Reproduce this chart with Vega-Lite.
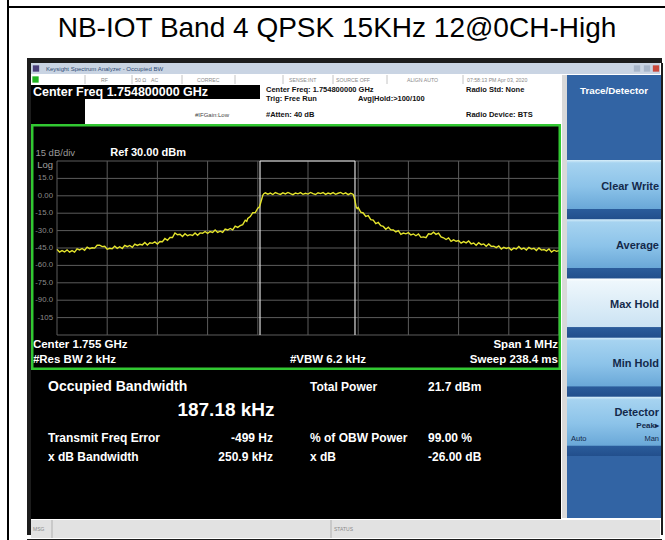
{
  "$schema": "https://vega.github.io/schema/vega-lite/v6.json",
  "background": "#ffffff",
  "padding": {"left": 7, "top": 0, "right": 0, "bottom": 0},
  "config": {"view": {"stroke": null}, "concat": {"spacing": 0}, "font": "Liberation Sans"},
  "datasets": {
    "trace": [
      {"f": -500, "p": -46.2}, {"f": -495, "p": -48.5}, {"f": -490, "p": -47.2}, {"f": -485, "p": -48.4}, {"f": -480, "p": -46.6},
      {"f": -475, "p": -48.6}, {"f": -470, "p": -47.2}, {"f": -465, "p": -48.5}, {"f": -460, "p": -45.7}, {"f": -455, "p": -46.6},
      {"f": -450, "p": -45.4}, {"f": -445, "p": -46.9}, {"f": -440, "p": -44.2}, {"f": -435, "p": -45.6}, {"f": -430, "p": -44.8},
      {"f": -425, "p": -45.1}, {"f": -420, "p": -42.6}, {"f": -415, "p": -42.5}, {"f": -410, "p": -43.8}, {"f": -405, "p": -43.5},
      {"f": -400, "p": -46.1}, {"f": -395, "p": -45.2}, {"f": -390, "p": -45.7}, {"f": -385, "p": -43.4}, {"f": -380, "p": -45.3},
      {"f": -375, "p": -43.9}, {"f": -370, "p": -45.4}, {"f": -365, "p": -42.7}, {"f": -360, "p": -43.9}, {"f": -355, "p": -42.8},
      {"f": -350, "p": -44.4}, {"f": -345, "p": -41.6}, {"f": -340, "p": -42.8}, {"f": -335, "p": -41.8}, {"f": -330, "p": -42.3},
      {"f": -325, "p": -40.2}, {"f": -320, "p": -42.4}, {"f": -315, "p": -40.5}, {"f": -310, "p": -41.0}, {"f": -305, "p": -39.8},
      {"f": -300, "p": -41.6}, {"f": -295, "p": -39.4}, {"f": -290, "p": -39.6}, {"f": -285, "p": -36.8}, {"f": -280, "p": -38.4},
      {"f": -275, "p": -35.9}, {"f": -270, "p": -36.0}, {"f": -265, "p": -32.0}, {"f": -260, "p": -33.6}, {"f": -255, "p": -33.1},
      {"f": -250, "p": -35.1}, {"f": -245, "p": -32.7}, {"f": -240, "p": -34.4}, {"f": -235, "p": -33.5}, {"f": -230, "p": -34.2},
      {"f": -225, "p": -32.0}, {"f": -220, "p": -34.1}, {"f": -215, "p": -32.0}, {"f": -210, "p": -32.3}, {"f": -205, "p": -30.8},
      {"f": -200, "p": -32.4}, {"f": -195, "p": -30.8}, {"f": -190, "p": -31.6}, {"f": -185, "p": -29.4}, {"f": -180, "p": -31.6},
      {"f": -175, "p": -30.5}, {"f": -170, "p": -31.6}, {"f": -165, "p": -28.7}, {"f": -160, "p": -29.5}, {"f": -155, "p": -28.2},
      {"f": -150, "p": -29.4}, {"f": -145, "p": -26.2}, {"f": -140, "p": -27.2}, {"f": -135, "p": -25.8}, {"f": -130, "p": -24.9},
      {"f": -125, "p": -21.1}, {"f": -122, "p": -22.0}, {"f": -120, "p": -19.6}, {"f": -115, "p": -17.9}, {"f": -110, "p": -14.6},
      {"f": -105, "p": -14.4}, {"f": -100, "p": -10.7}, {"f": -97, "p": -9.8}, {"f": -95, "p": -7.1}, {"f": -92, "p": -2.5},
      {"f": -90, "p": 0.5}, {"f": -88, "p": 1.8}, {"f": -85, "p": 2.6}, {"f": -80, "p": 1.4}, {"f": -75, "p": 2.3},
      {"f": -70, "p": 1.1}, {"f": -65, "p": 2.8}, {"f": -60, "p": 1.9}, {"f": -55, "p": 1.2}, {"f": -50, "p": 2.5},
      {"f": -45, "p": 1.6}, {"f": -40, "p": 2.9}, {"f": -35, "p": 1.8}, {"f": -30, "p": 1.0}, {"f": -25, "p": 2.4},
      {"f": -20, "p": 1.7}, {"f": -15, "p": 2.7}, {"f": -10, "p": 1.3}, {"f": -5, "p": 2.2}, {"f": 0, "p": 1.5},
      {"f": 5, "p": 2.9}, {"f": 10, "p": 1.8}, {"f": 15, "p": 1.1}, {"f": 20, "p": 2.6}, {"f": 25, "p": 1.9},
      {"f": 30, "p": 2.8}, {"f": 35, "p": 1.2}, {"f": 40, "p": 2.4}, {"f": 45, "p": 1.6}, {"f": 50, "p": 2.7},
      {"f": 55, "p": 1.3}, {"f": 60, "p": 2.2}, {"f": 65, "p": 2.9}, {"f": 70, "p": 1.5}, {"f": 75, "p": 2.5},
      {"f": 80, "p": 1.0}, {"f": 85, "p": 2.1}, {"f": 88, "p": 1.6}, {"f": 90, "p": 1.2}, {"f": 92, "p": -1.5},
      {"f": 94, "p": -5.0}, {"f": 96, "p": -9.7}, {"f": 98, "p": -11.0}, {"f": 100, "p": -10.1}, {"f": 105, "p": -14.1},
      {"f": 110, "p": -14.8}, {"f": 115, "p": -17.7}, {"f": 120, "p": -17.0}, {"f": 125, "p": -20.6}, {"f": 130, "p": -20.9},
      {"f": 135, "p": -24.0}, {"f": 140, "p": -23.0}, {"f": 145, "p": -25.8}, {"f": 150, "p": -26.4}, {"f": 155, "p": -28.8},
      {"f": 160, "p": -27.1}, {"f": 165, "p": -29.4}, {"f": 170, "p": -29.5}, {"f": 175, "p": -31.2}, {"f": 180, "p": -30.1},
      {"f": 185, "p": -33.2}, {"f": 190, "p": -32.1}, {"f": 195, "p": -32.8}, {"f": 200, "p": -31.8}, {"f": 205, "p": -33.8},
      {"f": 210, "p": -32.9}, {"f": 215, "p": -34.4}, {"f": 220, "p": -32.9}, {"f": 225, "p": -35.8}, {"f": 230, "p": -35.4},
      {"f": 235, "p": -36.1}, {"f": 240, "p": -32.8}, {"f": 245, "p": -33.2}, {"f": 250, "p": -31.4}, {"f": 255, "p": -33.2},
      {"f": 260, "p": -32.2}, {"f": 265, "p": -35.4}, {"f": 270, "p": -36.2}, {"f": 275, "p": -37.7}, {"f": 280, "p": -36.3},
      {"f": 285, "p": -39.3}, {"f": 290, "p": -38.0}, {"f": 295, "p": -39.2}, {"f": 300, "p": -38.5}, {"f": 305, "p": -40.8},
      {"f": 310, "p": -39.5}, {"f": 315, "p": -40.6}, {"f": 320, "p": -38.9}, {"f": 325, "p": -41.4}, {"f": 330, "p": -40.7},
      {"f": 335, "p": -42.6}, {"f": 340, "p": -40.5}, {"f": 345, "p": -42.1}, {"f": 350, "p": -41.5}, {"f": 355, "p": -43.5},
      {"f": 360, "p": -41.5}, {"f": 365, "p": -43.6}, {"f": 370, "p": -43.4}, {"f": 375, "p": -44.7}, {"f": 380, "p": -43.2},
      {"f": 385, "p": -45.9}, {"f": 390, "p": -44.4}, {"f": 395, "p": -45.4}, {"f": 400, "p": -44.7}, {"f": 405, "p": -46.7},
      {"f": 410, "p": -45.1}, {"f": 415, "p": -45.9}, {"f": 420, "p": -43.8}, {"f": 425, "p": -46.0}, {"f": 430, "p": -45.0},
      {"f": 435, "p": -46.8}, {"f": 440, "p": -44.4}, {"f": 445, "p": -45.9}, {"f": 450, "p": -45.2}, {"f": 455, "p": -47.1},
      {"f": 460, "p": -44.9}, {"f": 465, "p": -46.8}, {"f": 470, "p": -46.3}, {"f": 475, "p": -47.5}, {"f": 480, "p": -45.8},
      {"f": 485, "p": -48.5}, {"f": 490, "p": -46.9}, {"f": 495, "p": -47.9}, {"f": 500, "p": -47.2}
    ],
    "hgrid": [{"db": 30}, {"db": 15}, {"db": 0}, {"db": -15}, {"db": -30}, {"db": -45}, {"db": -60}, {"db": -75}, {"db": -90}, {"db": -105}, {"db": -120}],
    "vgrid": [{"f": -500}, {"f": -400}, {"f": -300}, {"f": -200}, {"f": -100}, {"f": 0}, {"f": 100}, {"f": 200}, {"f": 300}, {"f": 400}, {"f": 500}],
    "obw": [{"f": -95.6}, {"f": 93.6}],
    "obwTop": [{"lo": -95.6, "hi": 93.6}],
    "ylab": [{"db": 15, "lab": "15.0"}, {"db": 0, "lab": "0.00"}, {"db": -15, "lab": "-15.0"}, {"db": -30, "lab": "-30.0"}, {"db": -45, "lab": "-45.0"}, {"db": -60, "lab": "-60.0"}, {"db": -75, "lab": "-75.0"}, {"db": -90, "lab": "-90.0"}, {"db": -105, "lab": "-105"}],
    "buttons": [{"btn": "Clear Write", "active": false}, {"btn": "Average", "active": false}, {"btn": "Max Hold", "active": true}, {"btn": "Min Hold", "active": false}, {"btn": "Detector", "active": false}]
  },
  "spacing": 0,
  "hconcat": [
    {"width": 2, "height": 540, "data": {"values": []}, "mark": "text", "view": {"fill": "#000000"}},
    {
      "spacing": 0,
      "vconcat": [
        {"width": 656, "height": 6, "data": {"values": []}, "mark": "text"},
        {"width": 656, "height": 2, "data": {"values": []}, "mark": "text", "view": {"fill": "#000000"}},
        {"width": 656, "height": 42, "data": {"values": [{"t": "NB-IOT Band 4 QPSK 15KHz 12@0CH-High"}]}, "mark": {"type": "text", "fontSize": 28, "font": "Liberation Sans", "color": "#000000"}, "encoding": {"text": {"field": "t"}}},
        {"width": 656, "height": 8, "data": {"values": []}, "mark": "text"},
        {
          "spacing": 0,
          "hconcat": [
            {"width": 18, "height": 480, "data": {"values": []}, "mark": "text"},
            {
              "spacing": 0,
              "vconcat": [
                {"width": 635, "height": 5, "data": {"values": []}, "mark": "text", "view": {"fill": "#1c1c1c"}},
                {
                  "spacing": 0,
                  "hconcat": [
                    {"width": 4, "height": 472, "data": {"values": []}, "mark": "text", "view": {"fill": "#1c1c1c"}},
                    {
                      "spacing": 0,
                      "vconcat": [
                        {
                          "width": 629, "height": 11, "view": {"fill": "#c9d4e3"},
                          "layer": [
                            {"data": {"values": [{"t": "Keysight Spectrum Analyzer - Occupied BW", "col": 2}]},
                             "mark": {"type": "text", "align": "left", "fontSize": 6, "color": "#2f4c74"},
                             "encoding": {"x": {"field": "col", "type": "quantitative", "scale": {"domain": [1, 2, 3, 4, 5], "range": [5, 15, 606, 616, 625], "zero": false, "nice": false}, "axis": null}, "text": {"field": "t"}}},
                            {"data": {"values": [{"w": "icon", "col": 1}, {"w": "minimize", "col": 3}, {"w": "maximize", "col": 4}, {"w": "close", "col": 5}]},
                             "mark": {"type": "square", "size": 40, "opacity": 1},
                             "encoding": {"x": {"field": "col", "type": "quantitative", "scale": {"domain": [1, 2, 3, 4, 5], "range": [5, 15, 606, 616, 625], "zero": false, "nice": false}, "axis": null},
                                          "color": {"field": "w", "type": "nominal", "scale": {"domain": ["icon", "minimize", "maximize", "close"], "range": ["#4a3f7a", "#a7b5c9", "#a7b5c9", "#c9483b"]}, "legend": null}}}
                          ]
                        },
                        {
                          "spacing": 0,
                          "hconcat": [
                            {
                              "spacing": 0,
                              "vconcat": [
                                {
                                  "width": 530, "height": 9, "view": {"fill": "#ffffff"},
                                  "resolve": {"scale": {"x": "independent"}},
                                  "layer": [
                                    {"data": {"values": [{"s": 1}, {"s": 2}, {"s": 3}, {"s": 4}, {"s": 5}, {"s": 6}, {"s": 7}, {"s": 8}]},
                                     "mark": {"type": "rule", "color": "#c4c4c4", "strokeWidth": 1},
                                     "encoding": {"x": {"field": "s", "type": "quantitative", "scale": {"domain": [1, 2, 3, 4, 5, 6, 7, 8], "range": [54, 101, 151, 204, 252, 302, 356, 432], "zero": false, "nice": false}, "axis": null}}},
                                    {"data": {"values": [{"t": "RF", "col": 1}, {"t": "50 Ω", "col": 2}, {"t": "AC", "col": 3}, {"t": "CORREC", "col": 4}, {"t": "SENSE:INT", "col": 5}, {"t": "SOURCE OFF", "col": 6}, {"t": "ALIGN AUTO", "col": 7}, {"t": "07:58:13 PM Apr 03, 2020", "col": 8}]},
                                     "mark": {"type": "text", "align": "left", "fontSize": 5.2, "color": "#8a8a8a"},
                                     "encoding": {"x": {"field": "col", "type": "quantitative", "scale": {"domain": [1, 2, 3, 4, 5, 6, 7, 8], "range": [70, 104, 120, 166, 258, 305, 376, 436], "zero": false, "nice": false}, "axis": null}, "text": {"field": "t"}}},
                                    {"data": {"values": [{"t": "LXI", "col": 1}]},
                                     "mark": {"type": "square", "size": 40, "color": "#22b422", "opacity": 1},
                                     "encoding": {"x": {"field": "col", "type": "quantitative", "scale": {"domain": [0, 1], "range": [0, 4.5], "zero": false, "nice": false}, "axis": null}}}
                                  ]
                                },
                                {
                                  "spacing": 0,
                                  "hconcat": [
                                    {
                                      "spacing": 0,
                                      "vconcat": [
                                        {"width": 229, "height": 14, "view": {"fill": "#000000"},
                                         "data": {"values": [{"t": "Center Freq 1.754800000 GHz", "col": 1}]},
                                         "mark": {"type": "text", "align": "left", "fontSize": 12.5, "fontWeight": "bold", "color": "#ffffff"},
                                         "encoding": {"x": {"field": "col", "type": "quantitative", "scale": {"domain": [0, 1], "range": [0, 2], "zero": false, "nice": false}, "axis": null}, "text": {"field": "t"}}},
                                        {
                                          "spacing": 0,
                                          "hconcat": [
                                            {"width": 54, "height": 25, "data": {"values": []}, "mark": "text", "view": {"fill": "#000000"}},
                                            {"width": 175, "height": 25, "view": {"fill": "#ffffff"},
                                             "data": {"values": [{"t": "#IFGain:Low", "col": 1, "line": 1}]},
                                             "mark": {"type": "text", "align": "left", "fontSize": 6, "color": "#444444"},
                                             "encoding": {"x": {"field": "col", "type": "quantitative", "scale": {"domain": [0, 1], "range": [0, 110], "zero": false, "nice": false}, "axis": null},
                                                          "y": {"field": "line", "type": "quantitative", "scale": {"domain": [0, 1], "range": [0, 16], "zero": false, "nice": false}, "axis": null},
                                                          "text": {"field": "t"}}}
                                          ]
                                        }
                                      ]
                                    },
                                    {"width": 301, "height": 39, "view": {"fill": "#ffffff"},
                                     "data": {"values": [
                                       {"t": "Center Freq: 1.754800000 GHz", "col": 1, "line": 1},
                                       {"t": "Trig: Free Run", "col": 1, "line": 2},
                                       {"t": "#Atten: 40 dB", "col": 1, "line": 3},
                                       {"t": "Avg|Hold:>100/100", "col": 2, "line": 2},
                                       {"t": "Radio Std: None", "col": 3, "line": 1},
                                       {"t": "Radio Device: BTS", "col": 3, "line": 3}
                                     ]},
                                     "mark": {"type": "text", "align": "left", "fontSize": 7.5, "fontWeight": "bold", "color": "#111111"},
                                     "encoding": {"x": {"field": "col", "type": "quantitative", "scale": {"domain": [1, 2, 3], "range": [6, 98, 206], "zero": false, "nice": false}, "axis": null},
                                                  "y": {"field": "line", "type": "quantitative", "scale": {"domain": [1, 2, 3], "range": [5, 14, 30], "zero": false, "nice": false}, "axis": null},
                                                  "text": {"field": "t"}}}
                                  ]
                                },
                                {
                                  "width": 530, "height": 246,
                                  "view": {"fill": "#000000"},
                                  "layer": [
                                    {"data": {"name": "hgrid"}, "mark": {"type": "rule", "color": "#5c5c5c", "strokeWidth": 1},
                                     "encoding": {"y": {"field": "db", "type": "quantitative", "scale": {"domain": [-120, 30], "range": [211, 37], "nice": false, "zero": false}, "axis": null},
                                                  "x": {"datum": -500, "type": "quantitative", "scale": {"domain": [-500, 500], "range": [26, 528], "nice": false, "zero": false}, "axis": null},
                                                  "x2": {"datum": 500}}},
                                    {"data": {"name": "vgrid"}, "mark": {"type": "rule", "color": "#5c5c5c", "strokeWidth": 1},
                                     "encoding": {"x": {"field": "f", "type": "quantitative", "scale": {"domain": [-500, 500], "range": [26, 528], "nice": false, "zero": false}, "axis": null},
                                                  "y": {"datum": -120, "type": "quantitative", "scale": {"domain": [-120, 30], "range": [211, 37], "nice": false, "zero": false}, "axis": null},
                                                  "y2": {"datum": 30}}},
                                    {"data": {"name": "obw"}, "mark": {"type": "rule", "color": "#dcdcdc", "strokeWidth": 1.2},
                                     "encoding": {"x": {"field": "f", "type": "quantitative", "scale": {"domain": [-500, 500], "range": [26, 528], "nice": false, "zero": false}, "axis": null},
                                                  "y": {"datum": -120, "type": "quantitative", "scale": {"domain": [-120, 30], "range": [211, 37], "nice": false, "zero": false}, "axis": null},
                                                  "y2": {"datum": 30}}},
                                    {"data": {"name": "obwTop"}, "mark": {"type": "rule", "color": "#dcdcdc", "strokeWidth": 1.2},
                                     "encoding": {"x": {"field": "lo", "type": "quantitative", "scale": {"domain": [-500, 500], "range": [26, 528], "nice": false, "zero": false}, "axis": null},
                                                  "x2": {"field": "hi"},
                                                  "y": {"datum": 30, "type": "quantitative", "scale": {"domain": [-120, 30], "range": [211, 37], "nice": false, "zero": false}, "axis": null}}},
                                    {"data": {"name": "trace"}, "mark": {"type": "line", "color": "#e4e42c", "strokeWidth": 1.4},
                                     "encoding": {"x": {"field": "f", "type": "quantitative", "scale": {"domain": [-500, 500], "range": [26, 528], "nice": false, "zero": false}, "axis": null},
                                                  "y": {"field": "p", "type": "quantitative", "scale": {"domain": [-120, 30], "range": [211, 37], "nice": false, "zero": false}, "axis": null}}},
                                    {"data": {"name": "ylab"}, "mark": {"type": "text", "align": "right", "dx": -4, "fontSize": 7.8, "color": "#8c8c8c"},
                                     "encoding": {"x": {"datum": -500, "type": "quantitative", "scale": {"domain": [-500, 500], "range": [26, 528], "nice": false, "zero": false}, "axis": null},
                                                  "y": {"field": "db", "type": "quantitative", "scale": {"domain": [-120, 30], "range": [211, 37], "nice": false, "zero": false}, "axis": null},
                                                  "text": {"field": "lab"}}},
                                    {"data": {"values": [{}]}, "mark": {"type": "text", "text": "Log", "align": "right", "dx": -4, "fontSize": 9.5, "color": "#a0a0a0"},
                                     "encoding": {"x": {"datum": -500, "type": "quantitative", "scale": {"domain": [-500, 500], "range": [26, 528], "nice": false, "zero": false}, "axis": null},
                                                  "y": {"datum": 26.3, "type": "quantitative", "scale": {"domain": [-120, 30], "range": [211, 37], "nice": false, "zero": false}, "axis": null}}},
                                    {"data": {"values": [{}]}, "mark": {"type": "text", "text": "15 dB/div", "align": "left", "fontSize": 9.5, "color": "#9a9a9a"},
                                     "encoding": {"x": {"datum": -543, "type": "quantitative", "scale": {"domain": [-500, 500], "range": [26, 528], "nice": false, "zero": false}, "axis": null},
                                                  "y": {"datum": 37, "type": "quantitative", "scale": {"domain": [-120, 30], "range": [211, 37], "nice": false, "zero": false}, "axis": null}}},
                                    {"data": {"values": [{}]}, "mark": {"type": "text", "text": "Ref 30.00 dBm", "align": "left", "fontSize": 11, "fontWeight": "bold", "color": "#ffffff"},
                                     "encoding": {"x": {"datum": -394, "type": "quantitative", "scale": {"domain": [-500, 500], "range": [26, 528], "nice": false, "zero": false}, "axis": null},
                                                  "y": {"datum": 37, "type": "quantitative", "scale": {"domain": [-120, 30], "range": [211, 37], "nice": false, "zero": false}, "axis": null}}},
                                    {"data": {"values": [{}]}, "mark": {"type": "text", "text": "Center  1.755 GHz", "align": "left", "fontSize": 11.5, "fontWeight": "bold", "color": "#ffffff"},
                                     "encoding": {"x": {"datum": -548, "type": "quantitative", "scale": {"domain": [-500, 500], "range": [26, 528], "nice": false, "zero": false}, "axis": null},
                                                  "y": {"datum": -128.6, "type": "quantitative", "scale": {"domain": [-120, 30], "range": [211, 37], "nice": false, "zero": false}, "axis": null}}},
                                    {"data": {"values": [{}]}, "mark": {"type": "text", "text": "#Res BW  2 kHz", "align": "left", "fontSize": 11.5, "fontWeight": "bold", "color": "#ffffff"},
                                     "encoding": {"x": {"datum": -548, "type": "quantitative", "scale": {"domain": [-500, 500], "range": [26, 528], "nice": false, "zero": false}, "axis": null},
                                                  "y": {"datum": -141.5, "type": "quantitative", "scale": {"domain": [-120, 30], "range": [211, 37], "nice": false, "zero": false}, "axis": null}}},
                                    {"data": {"values": [{}]}, "mark": {"type": "text", "text": "#VBW  6.2 kHz", "align": "left", "fontSize": 11.5, "fontWeight": "bold", "color": "#ffffff"},
                                     "encoding": {"x": {"datum": -36, "type": "quantitative", "scale": {"domain": [-500, 500], "range": [26, 528], "nice": false, "zero": false}, "axis": null},
                                                  "y": {"datum": -141.5, "type": "quantitative", "scale": {"domain": [-120, 30], "range": [211, 37], "nice": false, "zero": false}, "axis": null}}},
                                    {"data": {"values": [{}]}, "mark": {"type": "text", "text": "Span 1 MHz", "align": "right", "fontSize": 11.5, "fontWeight": "bold", "color": "#ffffff"},
                                     "encoding": {"x": {"datum": 498, "type": "quantitative", "scale": {"domain": [-500, 500], "range": [26, 528], "nice": false, "zero": false}, "axis": null},
                                                  "y": {"datum": -128.6, "type": "quantitative", "scale": {"domain": [-120, 30], "range": [211, 37], "nice": false, "zero": false}, "axis": null}}},
                                    {"data": {"values": [{}]}, "mark": {"type": "text", "text": "Sweep  238.4 ms", "align": "right", "fontSize": 11.5, "fontWeight": "bold", "color": "#ffffff"},
                                     "encoding": {"x": {"datum": 498, "type": "quantitative", "scale": {"domain": [-500, 500], "range": [26, 528], "nice": false, "zero": false}, "axis": null},
                                                  "y": {"datum": -141.5, "type": "quantitative", "scale": {"domain": [-120, 30], "range": [211, 37], "nice": false, "zero": false}, "axis": null}}},
                                    {"data": {"values": [{}]}, "mark": {"type": "rect", "filled": false, "stroke": "#32c832", "strokeWidth": 5, "clip": true},
                                     "encoding": {"x": {"datum": -551.79, "type": "quantitative", "scale": {"domain": [-500, 500], "range": [26, 528], "nice": false, "zero": false}, "axis": null},
                                                  "x2": {"datum": 503.98},
                                                  "y": {"datum": 61.9, "type": "quantitative", "scale": {"domain": [-120, 30], "range": [211, 37], "nice": false, "zero": false}, "axis": null},
                                                  "y2": {"datum": -150.17}}}
                                  ]
                                },
                                {
                                  "width": 530, "height": 149,
                                  "view": {"fill": "#000000"},
                                  "data": {"values": [
                                    {"t": "Occupied Bandwidth", "col": 1, "line": 1},
                                    {"t": "187.18 kHz", "col": 2, "line": 2},
                                    {"t": "Total Power", "col": 4, "line": 1},
                                    {"t": "21.7 dBm", "col": 5, "line": 1},
                                    {"t": "Transmit Freq Error", "col": 1, "line": 3},
                                    {"t": "-499 Hz", "col": 3, "line": 3},
                                    {"t": "% of OBW Power", "col": 4, "line": 3},
                                    {"t": "99.00 %", "col": 5, "line": 3},
                                    {"t": "x dB Bandwidth", "col": 1, "line": 4},
                                    {"t": "250.9 kHz", "col": 3, "line": 4},
                                    {"t": "x dB", "col": 4, "line": 4},
                                    {"t": "-26.00 dB", "col": 5, "line": 4}
                                  ]},
                                  "layer": [
                                    {"transform": [{"filter": "datum.col == 1 && datum.line == 1"}],
                                     "mark": {"type": "text", "align": "left", "fontSize": 14, "fontWeight": "bold", "color": "#ffffff"},
                                     "encoding": {"x": {"field": "col", "type": "quantitative", "scale": {"domain": [1, 2, 3, 4, 5], "range": [17, 195, 242, 279, 397], "nice": false, "zero": false}, "axis": null},
                                                  "y": {"field": "line", "type": "quantitative", "scale": {"domain": [1, 2, 3, 4], "range": [17, 40, 68, 87], "nice": false, "zero": false}, "axis": null},
                                                  "text": {"field": "t"}}},
                                    {"transform": [{"filter": "datum.line == 2"}],
                                     "mark": {"type": "text", "align": "center", "fontSize": 19, "fontWeight": "bold", "color": "#ffffff"},
                                     "encoding": {"x": {"field": "col", "type": "quantitative", "scale": {"domain": [1, 2, 3, 4, 5], "range": [17, 195, 242, 279, 397], "nice": false, "zero": false}, "axis": null},
                                                  "y": {"field": "line", "type": "quantitative", "scale": {"domain": [1, 2, 3, 4], "range": [17, 40, 68, 87], "nice": false, "zero": false}, "axis": null},
                                                  "text": {"field": "t"}}},
                                    {"transform": [{"filter": "datum.col == 3"}],
                                     "mark": {"type": "text", "align": "right", "fontSize": 12, "fontWeight": "bold", "color": "#ffffff"},
                                     "encoding": {"x": {"field": "col", "type": "quantitative", "scale": {"domain": [1, 2, 3, 4, 5], "range": [17, 195, 242, 279, 397], "nice": false, "zero": false}, "axis": null},
                                                  "y": {"field": "line", "type": "quantitative", "scale": {"domain": [1, 2, 3, 4], "range": [17, 40, 68, 87], "nice": false, "zero": false}, "axis": null},
                                                  "text": {"field": "t"}}},
                                    {"transform": [{"filter": "datum.line != 2 && datum.col != 3 && !(datum.col == 1 && datum.line == 1)"}],
                                     "mark": {"type": "text", "align": "left", "fontSize": 12, "fontWeight": "bold", "color": "#ffffff"},
                                     "encoding": {"x": {"field": "col", "type": "quantitative", "scale": {"domain": [1, 2, 3, 4, 5], "range": [17, 195, 242, 279, 397], "nice": false, "zero": false}, "axis": null},
                                                  "y": {"field": "line", "type": "quantitative", "scale": {"domain": [1, 2, 3, 4], "range": [17, 40, 68, 87], "nice": false, "zero": false}, "axis": null},
                                                  "text": {"field": "t"}}}
                                  ]
                                }
                              ]
                            },
                            {"width": 5, "height": 443, "data": {"values": []}, "mark": "text", "view": {"fill": "#d9d9d9"}},
                            {
                              "spacing": 0,
                              "vconcat": [
                                {"width": 94, "height": 32, "view": {"fill": "#3264a4"},
                                 "data": {"values": [{"t": "Trace/Detector"}]},
                                 "mark": {"type": "text", "fontSize": 9.8, "fontWeight": "bold", "color": "#ffffff"},
                                 "encoding": {"text": {"field": "t"}}},
                                {"width": 94, "height": 53, "data": {"values": []}, "mark": "text", "view": {"fill": "#3264a4"}},
                                {
                                  "width": 94, "height": 296, "view": {"fill": "#3264a4"},
                                  "data": {"name": "buttons"},
                                  "layer": [
                                    {"transform": [{"filter": "!datum.active"}],
                                     "mark": {"type": "rect", "fill": {"gradient": "linear", "x1": 0, "y1": 0, "x2": 0, "y2": 1, "stops": [
                                       {"offset": 0, "color": "#d8eef9"}, {"offset": 0.05, "color": "#a6d3f0"}, {"offset": 0.45, "color": "#8cc3e9"},
                                       {"offset": 0.82, "color": "#6aa8d8"}, {"offset": 0.83, "color": "#2b5c9b"}, {"offset": 1, "color": "#224f8c"}]}},
                                     "encoding": {"y": {"field": "btn", "type": "nominal", "sort": null, "scale": {"type": "band", "domain": ["Clear Write", "Average", "Max Hold", "Min Hold", "Detector"], "paddingInner": 0, "paddingOuter": 0}, "axis": null}}},
                                    {"transform": [{"filter": "datum.active"}],
                                     "mark": {"type": "rect", "fill": {"gradient": "linear", "x1": 0, "y1": 0, "x2": 0, "y2": 1, "stops": [
                                       {"offset": 0, "color": "#ffffff"}, {"offset": 0.05, "color": "#eef7fc"}, {"offset": 0.82, "color": "#cbe3f3"},
                                       {"offset": 0.83, "color": "#2b5c9b"}, {"offset": 1, "color": "#224f8c"}]}},
                                     "encoding": {"y": {"field": "btn", "type": "nominal", "sort": null, "scale": {"type": "band", "domain": ["Clear Write", "Average", "Max Hold", "Min Hold", "Detector"], "paddingInner": 0, "paddingOuter": 0}, "axis": null}}},
                                    {"transform": [{"filter": "datum.btn != 'Detector'"}],
                                     "mark": {"type": "text", "align": "right", "fontSize": 11, "fontWeight": "bold", "color": "#13294b"},
                                     "encoding": {"y": {"field": "btn", "type": "nominal", "bandPosition": 0.45, "sort": null, "scale": {"type": "band", "domain": ["Clear Write", "Average", "Max Hold", "Min Hold", "Detector"], "paddingInner": 0, "paddingOuter": 0}, "axis": null},
                                                  "x": {"datum": 1, "type": "quantitative", "scale": {"domain": [0, 1], "range": [4, 92], "zero": false, "nice": false}, "axis": null},
                                                  "text": {"field": "btn"}}},
                                    {"transform": [{"filter": "datum.btn == 'Detector'"}],
                                     "mark": {"type": "text", "align": "right", "fontSize": 11, "fontWeight": "bold", "color": "#13294b"},
                                     "encoding": {"y": {"field": "btn", "type": "nominal", "bandPosition": 0.28, "sort": null, "scale": {"type": "band", "domain": ["Clear Write", "Average", "Max Hold", "Min Hold", "Detector"], "paddingInner": 0, "paddingOuter": 0}, "axis": null},
                                                  "x": {"datum": 1, "type": "quantitative", "scale": {"domain": [0, 1], "range": [4, 92], "zero": false, "nice": false}, "axis": null},
                                                  "text": {"field": "btn"}}},
                                    {"data": {"values": [{"btn": "Detector", "t": "Peak▸"}]},
                                     "mark": {"type": "text", "align": "right", "fontSize": 8, "fontWeight": "bold", "color": "#13294b"},
                                     "encoding": {"y": {"field": "btn", "type": "nominal", "bandPosition": 0.5, "sort": null, "scale": {"type": "band", "domain": ["Clear Write", "Average", "Max Hold", "Min Hold", "Detector"], "paddingInner": 0, "paddingOuter": 0}, "axis": null},
                                                  "x": {"datum": 1, "type": "quantitative", "scale": {"domain": [0, 1], "range": [4, 92], "zero": false, "nice": false}, "axis": null},
                                                  "text": {"field": "t"}}},
                                    {"data": {"values": [{"btn": "Detector", "t": "Man"}]},
                                     "mark": {"type": "text", "align": "right", "fontSize": 7.5, "color": "#13294b"},
                                     "encoding": {"y": {"field": "btn", "type": "nominal", "bandPosition": 0.72, "sort": null, "scale": {"type": "band", "domain": ["Clear Write", "Average", "Max Hold", "Min Hold", "Detector"], "paddingInner": 0, "paddingOuter": 0}, "axis": null},
                                                  "x": {"datum": 1, "type": "quantitative", "scale": {"domain": [0, 1], "range": [4, 92], "zero": false, "nice": false}, "axis": null},
                                                  "text": {"field": "t"}}},
                                    {"data": {"values": [{"btn": "Detector", "t": "Auto"}]},
                                     "mark": {"type": "text", "align": "left", "fontSize": 7.5, "color": "#13294b"},
                                     "encoding": {"y": {"field": "btn", "type": "nominal", "bandPosition": 0.72, "sort": null, "scale": {"type": "band", "domain": ["Clear Write", "Average", "Max Hold", "Min Hold", "Detector"], "paddingInner": 0, "paddingOuter": 0}, "axis": null},
                                                  "x": {"datum": 0, "type": "quantitative", "scale": {"domain": [0, 1], "range": [4, 92], "zero": false, "nice": false}, "axis": null},
                                                  "text": {"field": "t"}}}
                                  ]
                                },
                                {"width": 94, "height": 62, "data": {"values": []}, "mark": "text", "view": {"fill": "#3264a4"}}
                              ]
                            }
                          ]
                        },
                        {
                          "width": 629, "height": 18, "view": {"fill": "#e2e2e2"},
                          "resolve": {"scale": {"x": "independent"}},
                          "layer": [
                            {"data": {"values": [{"s": 1}, {"s": 2}]},
                             "mark": {"type": "rule", "color": "#b0b0b0", "strokeWidth": 1},
                             "encoding": {"x": {"field": "s", "type": "quantitative", "scale": {"domain": [1, 2], "range": [21, 300], "zero": false, "nice": false}, "axis": null}}},
                            {"data": {"values": [{"t": "MSG", "col": 1}, {"t": "STATUS", "col": 2}]},
                             "mark": {"type": "text", "align": "left", "fontSize": 5, "color": "#8a8a8a"},
                             "encoding": {"x": {"field": "col", "type": "quantitative", "scale": {"domain": [1, 2], "range": [2, 303], "zero": false, "nice": false}, "axis": null}, "text": {"field": "t"}}}
                          ]
                        }
                      ]
                    },
                    {"width": 2, "height": 472, "data": {"values": []}, "mark": "text", "view": {"fill": "#1c1c1c"}}
                  ]
                },
                {"width": 635, "height": 3, "data": {"values": []}, "mark": "text", "view": {"fill": "#1c1c1c"}}
              ]
            }
          ]
        }
      ]
    }
  ]
}
